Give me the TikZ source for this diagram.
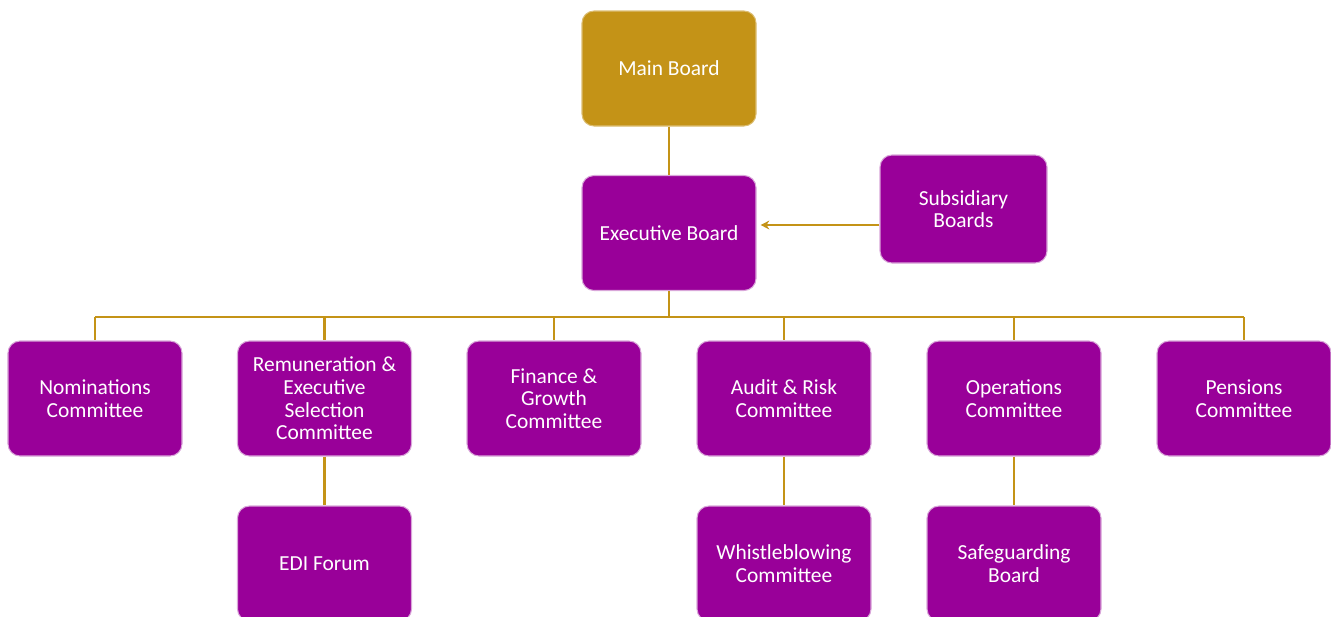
\documentclass[tikz,border=0pt]{standalone}
\usepackage{fontspec}
\setmainfont{Carlito}
\usepackage{tikz}
\usetikzlibrary{calc}
\usetikzlibrary{arrows.meta}

\definecolor{boardgold}{HTML}{C49317}
\definecolor{boardpurple}{HTML}{990099}
\definecolor{boardedge}{HTML}{D9A6D9}

\begin{document}
\begin{tikzpicture}
    % Define the sizes of the boxes
    \def\w{3.48}  % width of a box
    \def\h{2.30}  % height of a box

    \tikzset{
        box/.style={rectangle, rounded corners=0.24cm, draw=boardedge, line width=0.6pt,
            fill=boardpurple, text=white, align=center,
            minimum width=\w cm, minimum height=\h cm,
            font=\fontsize{12.2}{12.9}\selectfont},
        link/.style={draw=boardgold, line width=1.2pt}
    }

    \useasboundingbox (0,0) rectangle (26.62,-12.32);

    % Place the rows
    \coordinate (C0) at (13.38, -1.37);
    \coordinate (C1) at (13.38, -4.66);
    \coordinate (S1) at (19.27, -4.18);
    \coordinate (A) at (0, -4.50);   % height of the arrow

    % Draw the boards
    \node[box, fill=boardgold, draw=boardgold!60!white] (main) at (C0) {Main Board};
    \node[box] (exec) at (C1) {Executive Board};
    \node[box, minimum width=3.34cm, minimum height=2.16cm] (sub) at (S1) {Subsidiary\\Boards};

    % Draw the committees
    \node[box] (nom) at (1.90, -7.97) {Nominations\\Committee};
    \node[box] (rem) at (6.49, -7.97) {Remuneration \&\\Executive\\Selection\\Committee};
    \node[box] (fin) at (11.08, -7.97) {Finance \&\\Growth\\Committee};
    \node[box] (aud) at (15.68, -7.97) {Audit \& Risk\\Committee};
    \node[box] (ops) at (20.28, -7.97) {Operations\\Committee};
    \node[box] (pen) at (24.88, -7.97) {Pensions\\Committee};

    \node[box] (edi) at (6.49, -11.27) {EDI Forum};
    \node[box] (whi) at (15.68, -11.27) {Whistleblowing\\Committee};
    \node[box] (saf) at (20.28, -11.27) {Safeguarding\\Board};

    % Draw the lines
    \draw[link] (main.south) -- (exec.north);
    \draw[link, -{Stealth[length=5pt, width=5pt]}, shorten >=0.08cm] (sub.west |- A) -- (exec.east |- A);
    \draw[link] (exec.south) -- ++(0,-0.52) coordinate (bus);
    \draw[link] (nom.north |- bus) -- (pen.north |- bus);
    \foreach \n in {nom, rem, fin, aud, ops, pen}
        \draw[link] (\n.north |- bus) -- (\n.north);
    \draw[link] (rem.south) -- (edi.north);
    \draw[link] (aud.south) -- (whi.north);
    \draw[link] (ops.south) -- (saf.north);

\end{tikzpicture}
\end{document}
